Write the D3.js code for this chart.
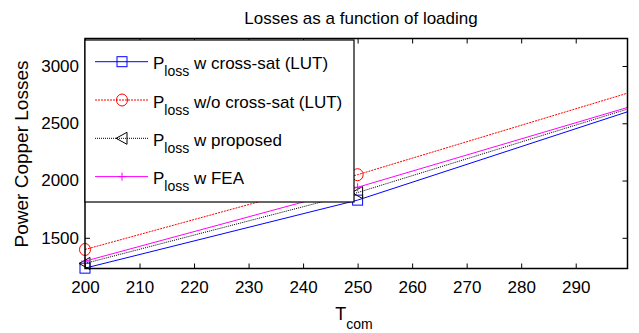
<!DOCTYPE html>
<html>
<head>
<meta charset="utf-8">
<script src="https://cdn.jsdelivr.net/npm/d3@7"></script>
<style>
  body { margin: 0; background: #fff; }
  text { font-family: "Liberation Sans", Arial, sans-serif; fill: #000; }
</style>
</head>
<body>
<svg id="chart" width="639" height="333"></svg>
<script>
// values
const tcom = [200, 250, 300];
const lossCrossSat = [1235, 1829, 2608];
const lossNoCrossSat = [1398, 2051, 2770];
const lossProposed = [1276, 1895, 2631];
const lossFEA = [1296, 1941, 2645];
const xTicks = [200, 210, 220, 230, 240, 250, 260, 270, 280, 290];
const yTicks = [1500, 2000, 2500, 3000];

const series = [
  { name: "w cross-sat (LUT)", values: lossCrossSat, color: "#0000ff", dash: null, marker: "square" },
  { name: "w/o cross-sat (LUT)", values: lossNoCrossSat, color: "#ff0000", dash: "2,1", marker: "circle" },
  { name: "w proposed", values: lossProposed, color: "#000000", dash: "1,1", marker: "triangle" },
  { name: "w FEA", values: lossFEA, color: "#ff00ff", dash: null, marker: "plus" }
];

const svg = d3.select("#chart");
const mLeft = 85, mTop = 38.5, mRight = 627.5, mBottom = 268.5;
const w = mRight - mLeft, h = mBottom - mTop;

const x = d3.scaleLinear().domain([200, 299.5]).range([0, w]);
const y = d3.scaleLinear().domain([1232, 3240]).range([h, 0]);

const g = svg.append("g").attr("transform", `translate(${mLeft},${mTop})`);

g.append("clipPath").attr("id", "clip")
  .append("rect").attr("width", w).attr("height", h);

// ticks on all four sides, pointing inwards
const tickStyle = sel => {
  sel.select(".domain").remove();
  sel.selectAll(".tick line").attr("stroke", "#000");
  sel.selectAll("text").style("font-size", "17px").attr("font-family", null);
};

g.append("g").attr("transform", `translate(0,${h})`)
  .call(d3.axisBottom(x).tickValues(xTicks).tickSize(-5).tickPadding(12.5).tickFormat(d3.format("d")))
  .call(tickStyle);
g.append("g")
  .call(d3.axisTop(x).tickValues(xTicks).tickSize(-5).tickFormat(""))
  .call(tickStyle);
g.append("g")
  .call(d3.axisLeft(y).tickValues(yTicks).tickSize(-5).tickPadding(6).tickFormat(d3.format("d")))
  .call(tickStyle);
g.append("g").attr("transform", `translate(${w},0)`)
  .call(d3.axisRight(y).tickValues(yTicks).tickSize(-5).tickFormat(""))
  .call(tickStyle);

const line = d3.line().x((d, i) => x(tcom[i])).y(d => y(d));

function drawMarker(sel, type, color) {
  if (type === "square") {
    sel.append("rect").attr("x", -5).attr("y", -5).attr("width", 10).attr("height", 10)
      .attr("fill", "none").attr("stroke", color);
  } else if (type === "circle") {
    sel.append("ellipse").attr("rx", 5.5).attr("ry", 6)
      .attr("fill", "none").attr("stroke", color);
  } else if (type === "triangle") {
    sel.append("path").attr("d", "M-6,0L5,-6L5,6Z")
      .attr("fill", "none").attr("stroke", color);
  } else {
    sel.append("path").attr("d", "M-4,0H4M0,-4V4")
      .attr("fill", "none").attr("stroke", color);
  }
}

series.forEach(s => {
  g.append("path")
    .datum(s.values)
    .attr("clip-path", "url(#clip)")
    .attr("fill", "none")
    .attr("stroke", s.color)
    .attr("stroke-width", 1)
    .attr("stroke-dasharray", s.dash)
    .attr("d", line);
  s.values.forEach((v, i) => {
    if (tcom[i] > 299.5) return;
    const m = g.append("g").attr("transform", `translate(${x(tcom[i])},${y(v)})`);
    drawMarker(m, s.marker, s.color);
  });
});

// box
g.append("rect").attr("width", w).attr("height", h)
  .attr("fill", "none").attr("stroke", "#000").attr("stroke-width", 1.5);

// legend
const lg = svg.append("g").attr("transform", "translate(85,40)");
lg.append("rect").attr("width", 269).attr("height", 162)
  .attr("fill", "#fff").attr("stroke", "#000").attr("stroke-width", 1.2);
series.forEach((s, i) => {
  const row = lg.append("g").attr("transform", `translate(0,${21.7 + i * 38.3})`);
  row.append("line").attr("x1", 10).attr("x2", 63)
    .attr("stroke", s.color).attr("stroke-dasharray", s.dash);
  const m = row.append("g").attr("transform", "translate(37,0)");
  drawMarker(m, s.marker, s.color);
  const t = row.append("text").attr("x", 68).attr("y", 7.5).style("font-size", "17px");
  t.append("tspan").text("P");
  t.append("tspan").attr("dy", 7).style("font-size", "14px").text("loss");
  t.append("tspan").attr("dy", -7).text(" " + s.name);
});

// title and axis labels
svg.append("text").attr("x", 361).attr("y", 24).attr("text-anchor", "middle")
  .style("font-size", "17px").text("Losses as a function of loading");

const xl = svg.append("text").attr("x", 354).attr("y", 320).attr("text-anchor", "middle")
  .style("font-size", "18px");
xl.append("tspan").text("T");
xl.append("tspan").attr("dy", 9).style("font-size", "14px").text("com");

svg.append("text")
  .attr("transform", "translate(28,154) rotate(-90)")
  .attr("text-anchor", "middle")
  .style("font-size", "19px")
  .text("Power Copper Losses");
</script>
</body>
</html>
